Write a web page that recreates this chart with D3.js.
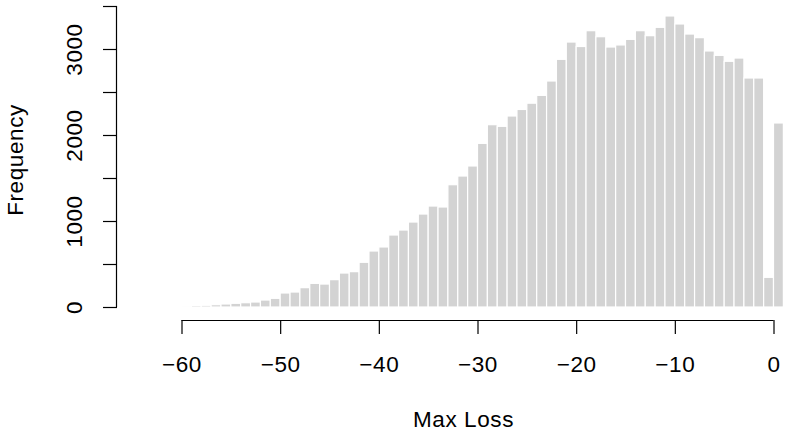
<!DOCTYPE html>
<html>
<head>
<meta charset="utf-8">
<script src="https://cdn.jsdelivr.net/npm/d3@7"></script>
<style>
  body { margin: 0; background: #fff; }
  svg text { font-family: "Liberation Sans", Arial, sans-serif; fill: #000; letter-spacing: 0.6px; }
</style>
</head>
<body>
<div id="chart"></div>
<script>
// bins are 1 wide: [binStart, binStart + 1)
const binStarts = d3.range(-60, 1);
const counts = [
  2, 18, 20, 27, 35, 43, 50, 58, 81, 101,
  163, 174, 225, 275, 267, 318, 395, 411, 520, 651,
  698, 837, 895, 988, 1081, 1174, 1163, 1422, 1523, 1640,
  1903, 2120, 2101, 2221, 2297, 2370, 2461, 2628, 2880, 3081,
  3029, 3213, 3143, 3023, 3047, 3112, 3213, 3155, 3252, 3384,
  3291, 3174, 3132, 2977, 2926, 2857, 2895, 2663, 2663, 345,
  2140
];
const xTicks = [-60, -50, -40, -30, -20, -10, 0];
const yTicks = [0, 500, 1000, 1500, 2000, 2500, 3000, 3500];
const yLabels = [0, 1000, 2000, 3000];

const width = 785, height = 434;
const fontSize = 22.5;

const svg = d3.select("#chart").append("svg")
  .attr("width", width)
  .attr("height", height);

const x = d3.scaleLinear().domain([-60, 0]).range([181.5, 773.5]);
const y = d3.scaleLinear().domain([0, 3500]).range([307, 6]);

/////////// bars
svg.append("g")
  .selectAll("rect")
  .data(binStarts.map((b, i) => ({ b, c: counts[i] })))
  .enter().append("rect")
  .attr("x", d => x(d.b))
  .attr("y", d => y(d.c))
  .attr("width", d => x(d.b + 1) - x(d.b))
  .attr("height", d => y(0) - y(d.c))
  .attr("fill", "#d3d3d3")
  .attr("stroke", "#fff")
  .attr("stroke-width", 1.2);

/////////// x axis
const xAxis = svg.append("g")
  .attr("transform", "translate(0,320)")
  .call(d3.axisBottom(x).tickValues(xTicks).tickSize(14))
  .attr("font-family", null)
  .attr("font-size", fontSize);
xAxis.select(".domain").attr("d", `M${x(-60)},0.5H${x(0)}`).attr("stroke", "#000").attr("stroke-width", 1.2);
xAxis.selectAll(".tick line").attr("stroke", "#000").attr("stroke-width", 1.2);
xAxis.selectAll(".tick text").attr("y", 51.7).attr("dy", null);

/////////// y axis
const yAxis = svg.append("g")
  .attr("transform", "translate(117,0)")
  .call(d3.axisLeft(y).tickValues(yTicks).tickSize(14)
    .tickFormat(d => yLabels.includes(d) ? d : ""))
  .attr("font-family", null)
  .attr("font-size", fontSize);
yAxis.select(".domain").attr("d", `M-0.5,${y(0)}V${y(3500)}`).attr("stroke", "#000").attr("stroke-width", 1.2);
yAxis.selectAll(".tick line").attr("stroke", "#000").attr("stroke-width", 1.2);
yAxis.selectAll(".tick text")
  .attr("x", null).attr("dy", null)
  .attr("text-anchor", "middle")
  .attr("transform", "translate(-35.3,0) rotate(-90)");

/////////// titles
svg.append("text")
  .attr("x", 463.5)
  .attr("y", 426.7)
  .attr("text-anchor", "middle")
  .attr("font-size", fontSize)
  .text("Max Loss");

svg.append("text")
  .attr("transform", "translate(23.3,160) rotate(-90)")
  .attr("text-anchor", "middle")
  .attr("font-size", fontSize)
  .text("Frequency");
</script>
</body>
</html>
